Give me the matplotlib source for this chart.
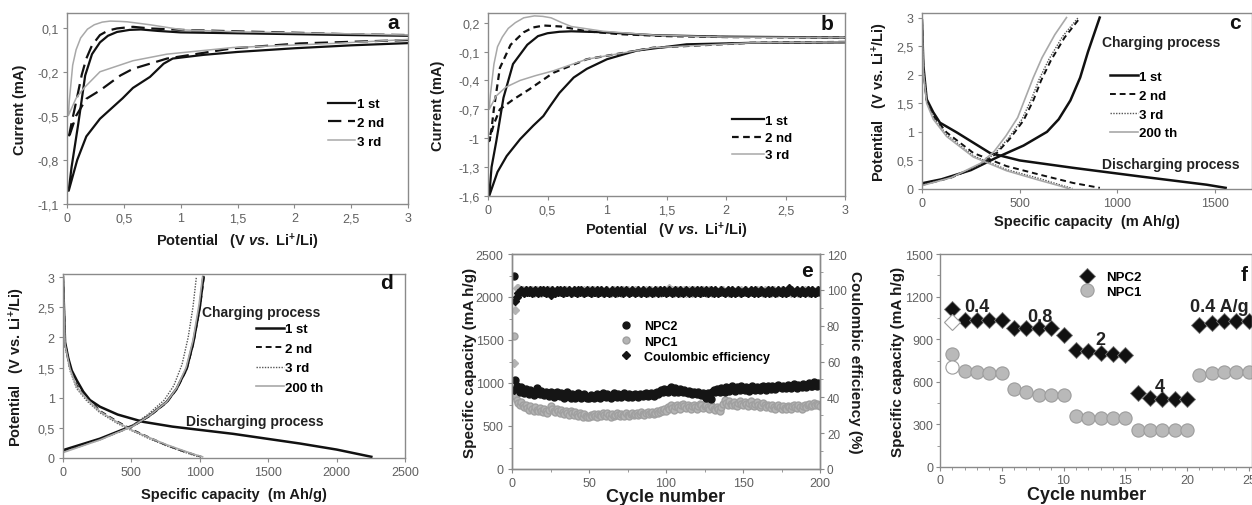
import matplotlib
matplotlib.use("Agg")
import matplotlib.pyplot as plt
from matplotlib.ticker import FuncFormatter, MultipleLocator

plt.rcParams["font.family"] = ["Liberation Sans", "DejaVu Sans"]
plt.rcParams["mathtext.fontset"] = "custom"
plt.rcParams["mathtext.rm"] = "Liberation Sans:bold"
plt.rcParams["mathtext.it"] = "Liberation Sans:bold:italic"
plt.rcParams["mathtext.bf"] = "Liberation Sans:bold"

# ---------------- data ----------------
# (a) CV curves NPC1: cathodic branch 3 -> 0 V then anodic 0 -> 3 V
a1_v = [3.0, 2.5, 2.0, 1.5, 1.2, 0.93, 0.85, 0.73, 0.58, 0.49, 0.39, 0.29, 0.17, 0.09, 0.015,
        0.04, 0.1, 0.16, 0.22, 0.29, 0.36, 0.44, 0.55, 0.65, 0.8, 1.0, 1.5, 2.0, 2.5, 3.0]
a1_i = [-0.005, -0.02, -0.04, -0.065, -0.085, -0.11, -0.145, -0.235, -0.31, -0.38, -0.45, -0.52, -0.64, -0.80, -1.01,
        -0.85, -0.55, -0.225, -0.08, 0.0, 0.045, 0.071, 0.085, 0.088, 0.078, 0.068, 0.062, 0.056, 0.05, 0.045]
a2_v = [3.0, 2.05, 1.46, 0.88, 0.58, 0.47, 0.29, 0.17, 0.08, 0.012,
        0.04, 0.086, 0.13, 0.17, 0.22, 0.29, 0.36, 0.44, 0.58, 0.73, 1.02, 1.5, 2.05, 2.5, 3.0]
a2_i = [0.016, -0.007, -0.04, -0.11, -0.18, -0.225, -0.327, -0.384, -0.5, -0.657,
        -0.55, -0.384, -0.22, -0.11, -0.02, 0.05, 0.08, 0.095, 0.106, 0.095, 0.085, 0.075, 0.065, 0.055, 0.05]
a3_v = [3.0, 2.35, 1.46, 0.88, 0.58, 0.29, 0.15, 0.08, 0.012,
        0.02, 0.05, 0.08, 0.12, 0.18, 0.24, 0.31, 0.38, 0.46, 0.53, 0.63, 0.73, 1.02, 1.5, 2.0, 2.5, 3.0]
a3_i = [0.02, -0.007, -0.035, -0.08, -0.125, -0.2, -0.31, -0.38, -0.498,
        -0.4, -0.155, -0.05, 0.03, 0.09, 0.12, 0.138, 0.145, 0.143, 0.14, 0.13, 0.12, 0.085, 0.072, 0.065, 0.058, 0.05]

# (b) CV curves NPC2
b1_v = [3.0, 2.2, 1.67, 1.25, 1.0, 0.83, 0.72, 0.6, 0.52, 0.465, 0.38, 0.27, 0.157, 0.08, 0.01,
        0.03, 0.07, 0.13, 0.21, 0.33, 0.42, 0.5, 0.6, 0.7, 0.97, 1.39, 1.95, 2.5, 3.0]
b1_i = [-0.005, -0.01, -0.025, -0.09, -0.18, -0.28, -0.37, -0.53, -0.67, -0.77, -0.87, -1.01, -1.185, -1.35, -1.6,
        -1.3, -1.03, -0.58, -0.23, -0.03, 0.06, 0.09, 0.105, 0.11, 0.1, 0.07, 0.055, 0.05, 0.045]
b2_v = [3.0, 2.2, 1.39, 0.83, 0.55, 0.35, 0.21, 0.1, 0.05, 0.01,
        0.03, 0.05, 0.1, 0.19, 0.3, 0.38, 0.47, 0.61, 0.83, 1.11, 1.5, 2.0, 3.0]
b2_i = [0.0, -0.01, -0.06, -0.18, -0.32, -0.49, -0.6, -0.7, -0.85, -1.03,
        -0.9, -0.69, -0.27, -0.03, 0.1, 0.15, 0.17, 0.16, 0.11, 0.08, 0.06, 0.05, 0.045]
b3_v = [3.0, 2.2, 1.39, 0.83, 0.55, 0.4, 0.27, 0.15, 0.07, 0.01,
        0.02, 0.05, 0.08, 0.12, 0.17, 0.23, 0.3, 0.39, 0.46, 0.53, 0.62, 0.7, 0.97, 1.4, 2.0, 3.0]
b3_i = [0.0, -0.01, -0.06, -0.18, -0.3, -0.35, -0.4, -0.47, -0.56, -0.7,
        -0.55, -0.23, -0.05, 0.05, 0.14, 0.2, 0.25, 0.27, 0.265, 0.25, 0.2, 0.16, 0.11, 0.07, 0.05, 0.045]

# (c) charge/discharge NPC1
c1_dis_x = [0, 7, 24, 58, 92, 178, 348, 500, 775, 1116, 1458, 1555]
c1_dis_y = [2.95, 2.16, 1.57, 1.34, 1.16, 0.99, 0.63, 0.50, 0.37, 0.22, 0.075, 0.02]
c1_chg_x = [0, 100, 250, 382, 520, 640, 700, 760, 810, 850, 880, 910]
c1_chg_y = [0.10, 0.17, 0.33, 0.55, 0.76, 1.0, 1.22, 1.55, 1.95, 2.4, 2.7, 3.0]
c2_dis_x = [0, 7, 24, 58, 126, 263, 433, 604, 775, 911]
c2_dis_y = [2.95, 2.1, 1.55, 1.28, 0.99, 0.63, 0.4, 0.25, 0.105, 0.02]
c2_chg_x = [0, 150, 300, 380, 450, 520, 570, 610, 660, 730, 810]
c2_chg_y = [0.07, 0.2, 0.42, 0.62, 0.88, 1.2, 1.55, 1.9, 2.25, 2.65, 3.0]
c3_dis_x = [0, 7, 24, 58, 126, 263, 433, 604, 700, 770]
c3_dis_y = [2.95, 2.1, 1.53, 1.25, 0.95, 0.58, 0.34, 0.18, 0.08, 0.01]
c3_chg_x = [0, 150, 300, 375, 445, 512, 560, 600, 650, 720, 800]
c3_chg_y = [0.07, 0.2, 0.43, 0.63, 0.9, 1.22, 1.57, 1.92, 2.27, 2.67, 3.0]
c200_dis_x = [0, 7, 24, 58, 126, 263, 433, 604, 700, 750]
c200_dis_y = [2.95, 2.05, 1.5, 1.22, 0.92, 0.56, 0.32, 0.15, 0.06, 0.01]
c200_chg_x = [0, 150, 300, 370, 430, 490, 530, 570, 615, 680, 740]
c200_chg_y = [0.06, 0.2, 0.45, 0.66, 0.93, 1.25, 1.6, 1.95, 2.3, 2.7, 3.0]

# (d) charge/discharge NPC2
d1_dis_x = [0, 15, 39, 64, 100, 148, 197, 270, 400, 585, 800, 1245, 1732, 2000, 2254]
d1_dis_y = [3.0, 1.92, 1.65, 1.45, 1.29, 1.1, 0.96, 0.85, 0.72, 0.6, 0.52, 0.40, 0.24, 0.14, 0.02]
d1_chg_x = [0, 270, 514, 636, 758, 831, 904, 953, 1002, 1026]
d1_chg_y = [0.13, 0.32, 0.54, 0.71, 0.93, 1.15, 1.48, 1.92, 2.53, 3.0]
d2_dis_x = [0, 15, 51, 100, 173, 270, 400, 514, 640, 758, 870, 953, 1010]
d2_dis_y = [3.0, 1.9, 1.5, 1.2, 1.0, 0.78, 0.6, 0.46, 0.33, 0.21, 0.12, 0.06, 0.02]
d2_chg_x = [0, 270, 514, 636, 758, 831, 904, 953, 1002, 1030]
d2_chg_y = [0.12, 0.31, 0.53, 0.7, 0.92, 1.14, 1.47, 1.9, 2.52, 3.0]
d3_dis_x = [0, 15, 51, 100, 173, 270, 400, 514, 640, 758, 870, 950, 990]
d3_dis_y = [3.0, 1.85, 1.45, 1.15, 0.95, 0.75, 0.57, 0.44, 0.31, 0.2, 0.11, 0.05, 0.02]
d3_chg_x = [0, 270, 500, 620, 740, 810, 870, 915, 950, 975]
d3_chg_y = [0.1, 0.3, 0.53, 0.72, 0.96, 1.2, 1.55, 2.0, 2.5, 3.0]
d200_dis_x = [0, 15, 51, 100, 173, 270, 400, 514, 640, 758, 870, 960, 1020]
d200_dis_y = [3.0, 1.88, 1.48, 1.18, 0.98, 0.77, 0.59, 0.45, 0.33, 0.22, 0.13, 0.06, 0.02]
d200_chg_x = [0, 270, 514, 636, 758, 831, 900, 950, 995, 1020]
d200_chg_y = [0.09, 0.3, 0.53, 0.71, 0.93, 1.16, 1.5, 1.95, 2.55, 3.0]

# (e) cycling, 200 cycles
e_cycles = list(range(1, 201))
e_npc2 = [2250, 1040, 960, 930, 900, 950, 910, 880, 930, 900,
          870, 920, 900, 860, 890, 940, 900, 870, 910, 880,
          860, 900, 880, 850, 900, 870, 840, 880, 900, 860,
          850, 880, 860, 830, 870, 890, 850, 830, 870, 850,
          820, 860, 880, 840, 820, 850, 870, 840, 820, 830,
          860, 840, 820, 850, 870, 840, 830, 860, 880, 850,
          840, 870, 850, 830, 860, 880, 850, 840, 870, 850,
          840, 860, 880, 850, 840, 870, 860, 840, 860, 870,
          850, 840, 870, 860, 850, 870, 880, 850, 860, 880,
          860, 850, 880, 900, 870, 890, 920, 900, 930, 910,
          900, 930, 950, 920, 900, 940, 920, 900, 930, 910,
          890, 920, 900, 880, 910, 890, 870, 900, 880, 870,
          890, 870, 860, 880, 850, 830, 880, 860, 810, 900,
          920, 890, 930, 910, 890, 940, 920, 900, 950, 930,
          910, 940, 960, 930, 910, 950, 930, 920, 960, 940,
          920, 950, 930, 910, 940, 960, 930, 920, 950, 940,
          920, 950, 970, 940, 920, 960, 940, 930, 970, 950,
          930, 960, 980, 950, 940, 970, 950, 940, 980, 960,
          940, 970, 990, 960, 940, 980, 960, 950, 990, 970,
          950, 980, 1000, 970, 960, 1010, 980, 970, 1000, 990]
e_npc1 = [1550, 850, 800, 770, 750, 780, 740, 720, 750, 710,
          690, 730, 700, 680, 720, 690, 670, 710, 680, 660,
          700, 680, 650, 690, 730, 700, 670, 660, 700, 670,
          650, 690, 660, 640, 680, 650, 630, 670, 650, 630,
          660, 640, 620, 650, 630, 610, 640, 620, 610, 600,
          630, 620, 640, 620, 610, 640, 630, 620, 650, 630,
          620, 650, 630, 610, 640, 620, 630, 650, 630, 620,
          640, 630, 620, 650, 630, 620, 640, 650, 630, 640,
          650, 630, 640, 660, 640, 630, 650, 660, 640, 650,
          660, 640, 650, 670, 650, 660, 690, 670, 700, 680,
          720, 700, 740, 710, 690, 730, 750, 720, 700, 740,
          760, 730, 710, 740, 720, 700, 730, 750, 720, 700,
          730, 760, 740, 710, 730, 750, 720, 700, 740, 720,
          700, 690, 720, 700, 680, 720, 760, 800, 770, 750,
          790, 760, 740, 780, 750, 730, 770, 790, 760, 740,
          780, 760, 730, 770, 790, 750, 730, 760, 780, 750,
          720, 750, 770, 740, 720, 750, 730, 710, 740, 720,
          700, 730, 750, 720, 700, 730, 710, 700, 730, 720,
          700, 730, 750, 720, 710, 740, 720, 700, 730, 750,
          720, 740, 760, 730, 750, 770, 740, 760, 750, 730]
e_ce_npc2 = [44, 94, 96, 98, 99, 100, 99, 98, 100, 99,
             99, 100, 98, 99, 100, 99, 98, 100, 99, 100,
             99, 98, 100, 99, 97, 100, 99, 98, 100, 99,
             100, 99, 98, 100, 99, 99, 100, 98, 99, 100,
             99, 98, 100, 99, 100, 99, 98, 99, 100, 99,
             98, 100, 99, 99, 100, 98, 99, 100, 99, 98,
             100, 99, 98, 99, 100, 99, 98, 100, 99, 99,
             100, 98, 99, 100, 99, 98, 99, 100, 99, 98,
             99, 100, 99, 98, 100, 99, 98, 99, 100, 99,
             98, 99, 100, 99, 98, 100, 99, 99, 100, 98,
             99, 100, 99, 98, 99, 100, 99, 98, 100, 99,
             98, 99, 100, 99, 98, 99, 100, 99, 98, 100,
             99, 98, 100, 99, 99, 100, 98, 99, 100, 99,
             98, 100, 99, 98, 99, 100, 99, 98, 99, 100,
             99, 98, 100, 99, 98, 99, 100, 99, 98, 99,
             100, 99, 98, 99, 100, 99, 98, 100, 99, 98,
             99, 100, 99, 98, 99, 100, 98, 99, 100, 99,
             98, 99, 100, 99, 98, 100, 99, 98, 99, 101,
             100, 99, 98, 99, 100, 99, 98, 100, 99, 98,
             99, 100, 99, 98, 100, 99, 98, 99, 100, 99]
e_ce_npc1 = [59, 89, 101, 101, 100, 99, 100, 99, 100, 99,
             100, 99, 100, 98, 99, 100, 99, 100, 98, 99,
             100, 99, 98, 100, 99, 100, 98, 99, 100, 99,
             99, 100, 99, 98, 100, 99, 100, 99, 98, 99,
             100, 99, 98, 100, 99, 98, 100, 99, 99, 100,
             99, 98, 100, 99, 98, 100, 99, 100, 98, 99,
             99, 100, 99, 98, 99, 100, 99, 98, 100, 99,
             98, 100, 99, 99, 100, 98, 99, 100, 99, 100,
             100, 99, 98, 99, 100, 99, 100, 98, 99, 100,
             99, 98, 99, 100, 99, 100, 98, 99, 100, 99,
             100, 101, 99, 100, 98, 99, 100, 99, 98, 100,
             99, 100, 98, 99, 100, 99, 98, 100, 99, 99,
             100, 99, 98, 100, 99, 98, 99, 100, 99, 98,
             99, 100, 99, 98, 100, 99, 100, 98, 99, 100,
             98, 99, 100, 99, 98, 100, 99, 98, 100, 99,
             99, 100, 98, 99, 100, 99, 98, 99, 100, 99,
             100, 99, 98, 100, 99, 99, 100, 98, 99, 100,
             99, 98, 100, 99, 100, 99, 98, 99, 100, 99,
             98, 100, 99, 99, 100, 98, 99, 100, 99, 100,
             99, 100, 98, 99, 100, 99, 98, 100, 99, 99]

# (f) rate capability
f_cycles = list(range(1, 26))
f_npc2 = [1113, 1037, 1037, 1037, 1037, 977, 977, 977, 977, 930,
          826, 818, 802, 795, 789, 521, 486, 480, 480, 480,
          1002, 1014, 1025, 1025, 1025]
f_npc1 = [796, 678, 667, 662, 662, 549, 526, 507, 504, 504,
          361, 345, 345, 345, 345, 260, 260, 260, 260, 260,
          650, 660, 669, 669, 669]
f_first_cycle = [1]
f_npc2_first_charge = [1023]
f_npc1_first_charge = [702]
f_rates = ["0.4", "0.8", "2", "4", "0.4 A/g"]
f_rate_x = [3.0, 8.1, 13.0, 17.8, 20.2]
f_rate_y = [1127, 1063, 901, 570, 1127]

# ---------------- styling ----------------
W, H = 1252, 506
fig = plt.figure(figsize=(W / 100, H / 100), dpi=100)
TICK_C = "#606060"
SPINE_C = "#8a8a8a"
GREY = "#a8a8a8"
LAB = dict(fontsize=10.5, fontweight="bold", color="#1a1a1a")


def comma(v, pos):
    s = f"{v:.1f}".rstrip("0").rstrip(".")
    return s.replace(".", ",")


def box(px):
    l, r, t, b = px
    return fig.add_axes([l / W, 1 - b / H, (r - l) / W, (b - t) / H])


def style(ax):
    for s in ax.spines.values():
        s.set_color(SPINE_C)
        s.set_linewidth(1.0)
    ax.tick_params(colors=SPINE_C, labelcolor=TICK_C, labelsize=9, direction="out",
                   length=3, width=0.8, pad=3)


def letter(ax, s, x, y):
    ax.text(x, y, s, transform=ax.transAxes, ha="center", va="center",
            fontsize=15, fontweight="bold", color="#111")


# ---------------- (a) ----------------
ax = box((67, 408, 14, 205))
style(ax)
ax.plot(a1_v, a1_i, color="#111", lw=1.6, label="1 st")
ax.plot(a2_v, a2_i, color="#111", lw=1.6, ls=(0, (6, 3)), label="2 nd")
ax.plot(a3_v, a3_i, color=GREY, lw=1.1, label="3 rd")
ax.set_xlim(0, 3)
ax.set_ylim(-1.1, 0.2)
ax.set_yticks([0.1, -0.2, -0.5, -0.8, -1.1])
ax.set_xticks([0, 0.5, 1, 1.5, 2, 2.5, 3])
ax.xaxis.set_major_formatter(FuncFormatter(comma))
ax.yaxis.set_major_formatter(FuncFormatter(comma))
ax.set_ylabel("Current (mA)", **LAB)
ax.set_xlabel(r"Potential   (V $vs.$ Li$^{+}$/Li)", **LAB)
ax.yaxis.set_label_coords(-0.117, 0.5)
ax.xaxis.set_label_coords(0.5, -0.14)
ax.legend(loc="upper left", bbox_to_anchor=(0.745, 0.59), frameon=False, borderpad=0,
          handlelength=2.1, handletextpad=0.1, labelspacing=0.5,
          prop=dict(size=9.5, weight="bold"))
letter(ax, "a", 0.956, 0.95)

# ---------------- (b) ----------------
ax = box((488, 845, 14, 197))
style(ax)
ax.plot(b1_v, b1_i, color="#111", lw=1.6, label="1 st")
ax.plot(b2_v, b2_i, color="#111", lw=1.6, ls=(0, (3, 2)), label="2 nd")
ax.plot(b3_v, b3_i, color=GREY, lw=1.1, label="3 rd")
ax.set_xlim(0, 3)
ax.set_ylim(-1.6, 0.3)
ax.set_yticks([0.2, -0.1, -0.4, -0.7, -1.0, -1.3, -1.6])
ax.set_xticks([0, 0.5, 1, 1.5, 2, 2.5, 3])
ax.xaxis.set_major_formatter(FuncFormatter(comma))
ax.yaxis.set_major_formatter(FuncFormatter(comma))
ax.set_ylabel("Current (mA)", **LAB)
ax.set_xlabel(r"Potential   (V $vs.$ Li$^{+}$/Li)", **LAB)
ax.yaxis.set_label_coords(-0.12, 0.5)
ax.xaxis.set_label_coords(0.5, -0.13)
ax.legend(loc="upper left", bbox_to_anchor=(0.665, 0.48), frameon=False, borderpad=0,
          handlelength=2.4, handletextpad=0.1, labelspacing=0.38,
          prop=dict(size=9.5, weight="bold"))
letter(ax, "b", 0.95, 0.94)

# ---------------- (c) ----------------
ax = box((922, 1252, 14, 190))
style(ax)
l1, = ax.plot(c1_dis_x, c1_dis_y, color="#111", lw=1.8, label="1 st")
ax.plot(c1_chg_x, c1_chg_y, color="#111", lw=1.8)
l2, = ax.plot(c2_dis_x, c2_dis_y, color="#111", lw=1.4, ls=(0, (3, 2)), label="2 nd")
ax.plot(c2_chg_x, c2_chg_y, color="#111", lw=1.4, ls=(0, (3, 2)))
l3, = ax.plot(c3_dis_x, c3_dis_y, color="#555", lw=1.0, ls=(0, (1, 1)), label="3 rd")
ax.plot(c3_chg_x, c3_chg_y, color="#555", lw=1.0, ls=(0, (1, 1)))
l4, = ax.plot(c200_dis_x, c200_dis_y, color=GREY, lw=1.2, label="200 th")
ax.plot(c200_chg_x, c200_chg_y, color=GREY, lw=1.2)
ax.set_xlim(0, 1690)
ax.set_ylim(0, 3.08)
ax.set_xticks([0, 500, 1000, 1500])
ax.set_yticks([0, 0.5, 1, 1.5, 2, 2.5, 3])
ax.yaxis.set_major_formatter(FuncFormatter(comma))
ax.set_ylabel("Potential   (V vs. Li$^{+}$/Li)", **LAB)
ax.set_xlabel("Specific capacity  (m Ah/g)", **LAB)
ax.yaxis.set_label_coords(-0.097, 0.5)
ax.xaxis.set_label_coords(0.5, -0.14)
ax.legend(handles=[l1, l2, l3, l4], loc="upper left", bbox_to_anchor=(0.55, 0.71),
          frameon=False, borderpad=0, handlelength=2.1, handletextpad=0.1,
          labelspacing=0.5, prop=dict(size=9.5, weight="bold"))
ax.text(0.545, 0.835, "Charging process", transform=ax.transAxes, va="center",
        fontsize=10, fontweight="bold", color="#222")
ax.text(0.545, 0.14, "Discharging process", transform=ax.transAxes, va="center",
        fontsize=10, fontweight="bold", color="#222")
letter(ax, "c", 0.948, 0.945)

# ---------------- (d) ----------------
ax = box((63, 405, 275, 459))
style(ax)
l1, = ax.plot(d1_dis_x, d1_dis_y, color="#111", lw=1.8, label="1 st")
ax.plot(d1_chg_x, d1_chg_y, color="#111", lw=1.8)
l2, = ax.plot(d2_dis_x, d2_dis_y, color="#111", lw=1.4, ls=(0, (3, 2)), label="2 nd")
ax.plot(d2_chg_x, d2_chg_y, color="#111", lw=1.4, ls=(0, (3, 2)))
l3, = ax.plot(d3_dis_x, d3_dis_y, color="#555", lw=1.0, ls=(0, (1, 1)), label="3 rd")
ax.plot(d3_chg_x, d3_chg_y, color="#555", lw=1.0, ls=(0, (1, 1)))
l4, = ax.plot(d200_dis_x, d200_dis_y, color=GREY, lw=1.2, label="200 th")
ax.plot(d200_chg_x, d200_chg_y, color=GREY, lw=1.2)
ax.set_xlim(0, 2500)
ax.set_ylim(0, 3.05)
ax.set_xticks([0, 500, 1000, 1500, 2000, 2500])
ax.set_yticks([0, 0.5, 1, 1.5, 2, 2.5, 3])
ax.yaxis.set_major_formatter(FuncFormatter(comma))
ax.set_ylabel("Potential   (V vs. Li$^{+}$/Li)", **LAB)
ax.set_xlabel("Specific capacity  (m Ah/g)", **LAB)
ax.yaxis.set_label_coords(-0.105, 0.5)
ax.xaxis.set_label_coords(0.5, -0.155)
ax.legend(handles=[l1, l2, l3, l4], loc="upper left", bbox_to_anchor=(0.545, 0.77),
          frameon=False, borderpad=0, handlelength=2.1, handletextpad=0.1,
          labelspacing=0.55, prop=dict(size=9.5, weight="bold"))
ax.text(0.405, 0.795, "Charging process", transform=ax.transAxes, va="center",
        fontsize=10, fontweight="bold", color="#222")
ax.text(0.36, 0.2, "Discharging process", transform=ax.transAxes, va="center",
        fontsize=10, fontweight="bold", color="#222")
letter(ax, "d", 0.947, 0.955)

# ---------------- (e) ----------------
ax = box((512, 820, 255, 470))
style(ax)
ax2 = ax.twinx()
style(ax2)
ax2.tick_params(labelsize=8.5, pad=2)
h1, = ax.plot(e_cycles, e_npc1, ls="none", marker="o", ms=5, color="#b4b4b4",
              mec="#a0a0a0", label="NPC1")
h2, = ax.plot(e_cycles, e_npc2, ls="none", marker="o", ms=5, color="#151515",
              label="NPC2")
ax2.plot(e_cycles, e_ce_npc1, ls="none", marker="D", ms=4.2, color="#b4b4b4")
h3, = ax2.plot(e_cycles, e_ce_npc2, ls="none", marker="D", ms=4.2, color="#151515",
               label="Coulombic efficiency")
ax.set_xlim(0, 200)
ax.set_ylim(0, 2500)
ax2.set_ylim(0, 120)
ax.set_xticks([0, 50, 100, 150, 200])
ax.xaxis.set_minor_locator(MultipleLocator(25))
ax.yaxis.set_minor_locator(MultipleLocator(250))
ax2.set_yticks([0, 20, 40, 60, 80, 100, 120])
ax2.yaxis.set_minor_locator(MultipleLocator(10))
for a_ in (ax, ax2):
    a_.tick_params(which="minor", length=2, color=SPINE_C)
ax.set_ylabel("Specific capacity (mA h/g)", fontsize=11, fontweight="bold", color="#1a1a1a")
ax2.set_ylabel("Coulombic efficiency (%)", fontsize=11, fontweight="bold",
               color="#1a1a1a", rotation=270)
ax.set_xlabel("Cycle number", fontsize=13, fontweight="bold", color="#1a1a1a")
ax.yaxis.set_label_coords(-0.115, 0.5)
ax2.yaxis.set_label_coords(1.135, 0.5)
ax.xaxis.set_label_coords(0.5, -0.09)
ax2.legend(handles=[h2, h1, h3], loc="upper left", bbox_to_anchor=(0.33, 0.72),
           frameon=False, borderpad=0, handlelength=1.0, handletextpad=0.9,
           labelspacing=0.25, prop=dict(size=9, weight="bold"))
letter(ax2, "e", 0.958, 0.925)

# ---------------- (f) ----------------
ax = box((940, 1252, 255, 468))
style(ax)
ax.tick_params(pad=2)
g1, = ax.plot(f_cycles, f_npc1, ls="none", marker="o", ms=9.5, color="#b9b9b9",
              mec="#9c9c9c", mew=0.8, label="NPC1")
ax.plot(f_first_cycle, f_npc1_first_charge, ls="none", marker="o", ms=9.5, color="white",
        mec="#9c9c9c", mew=0.8)
g2, = ax.plot(f_cycles, f_npc2, ls="none", marker="D", ms=8.5, color="#111",
              mec="#777", mew=0.6, label="NPC2")
ax.plot(f_first_cycle, f_npc2_first_charge, ls="none", marker="D", ms=8.5, color="white",
        mec="#9c9c9c", mew=0.8)
for s, x, y in zip(f_rates, f_rate_x, f_rate_y):
    ax.text(x, y, s, ha="left" if "A/g" in s else "center", va="center",
            fontsize=13, fontweight="bold", color="#222")
ax.set_xlim(0, 25.26)
ax.set_ylim(0, 1500)
ax.set_xticks([0, 5, 10, 15, 20, 25])
ax.set_yticks([0, 300, 600, 900, 1200, 1500])
ax.xaxis.set_minor_locator(MultipleLocator(1))
ax.yaxis.set_minor_locator(MultipleLocator(150))
ax.tick_params(which="minor", length=2, color=SPINE_C)
ax.set_ylabel("Specific capacity (mA h/g)", fontsize=11, fontweight="bold", color="#1a1a1a")
ax.set_xlabel("Cycle number", fontsize=13, fontweight="bold", color="#1a1a1a")
ax.yaxis.set_label_coords(-0.112, 0.5)
ax.xaxis.set_label_coords(0.47, -0.09)
ax.legend(handles=[g2, g1], loc="upper left", bbox_to_anchor=(0.43, 0.95),
          frameon=False, borderpad=0, handlelength=1.0, handletextpad=0.9,
          labelspacing=0.15, prop=dict(size=9.5, weight="bold"))
letter(ax, "f", 0.975, 0.905)

fig.savefig("out.png", dpi=100)
